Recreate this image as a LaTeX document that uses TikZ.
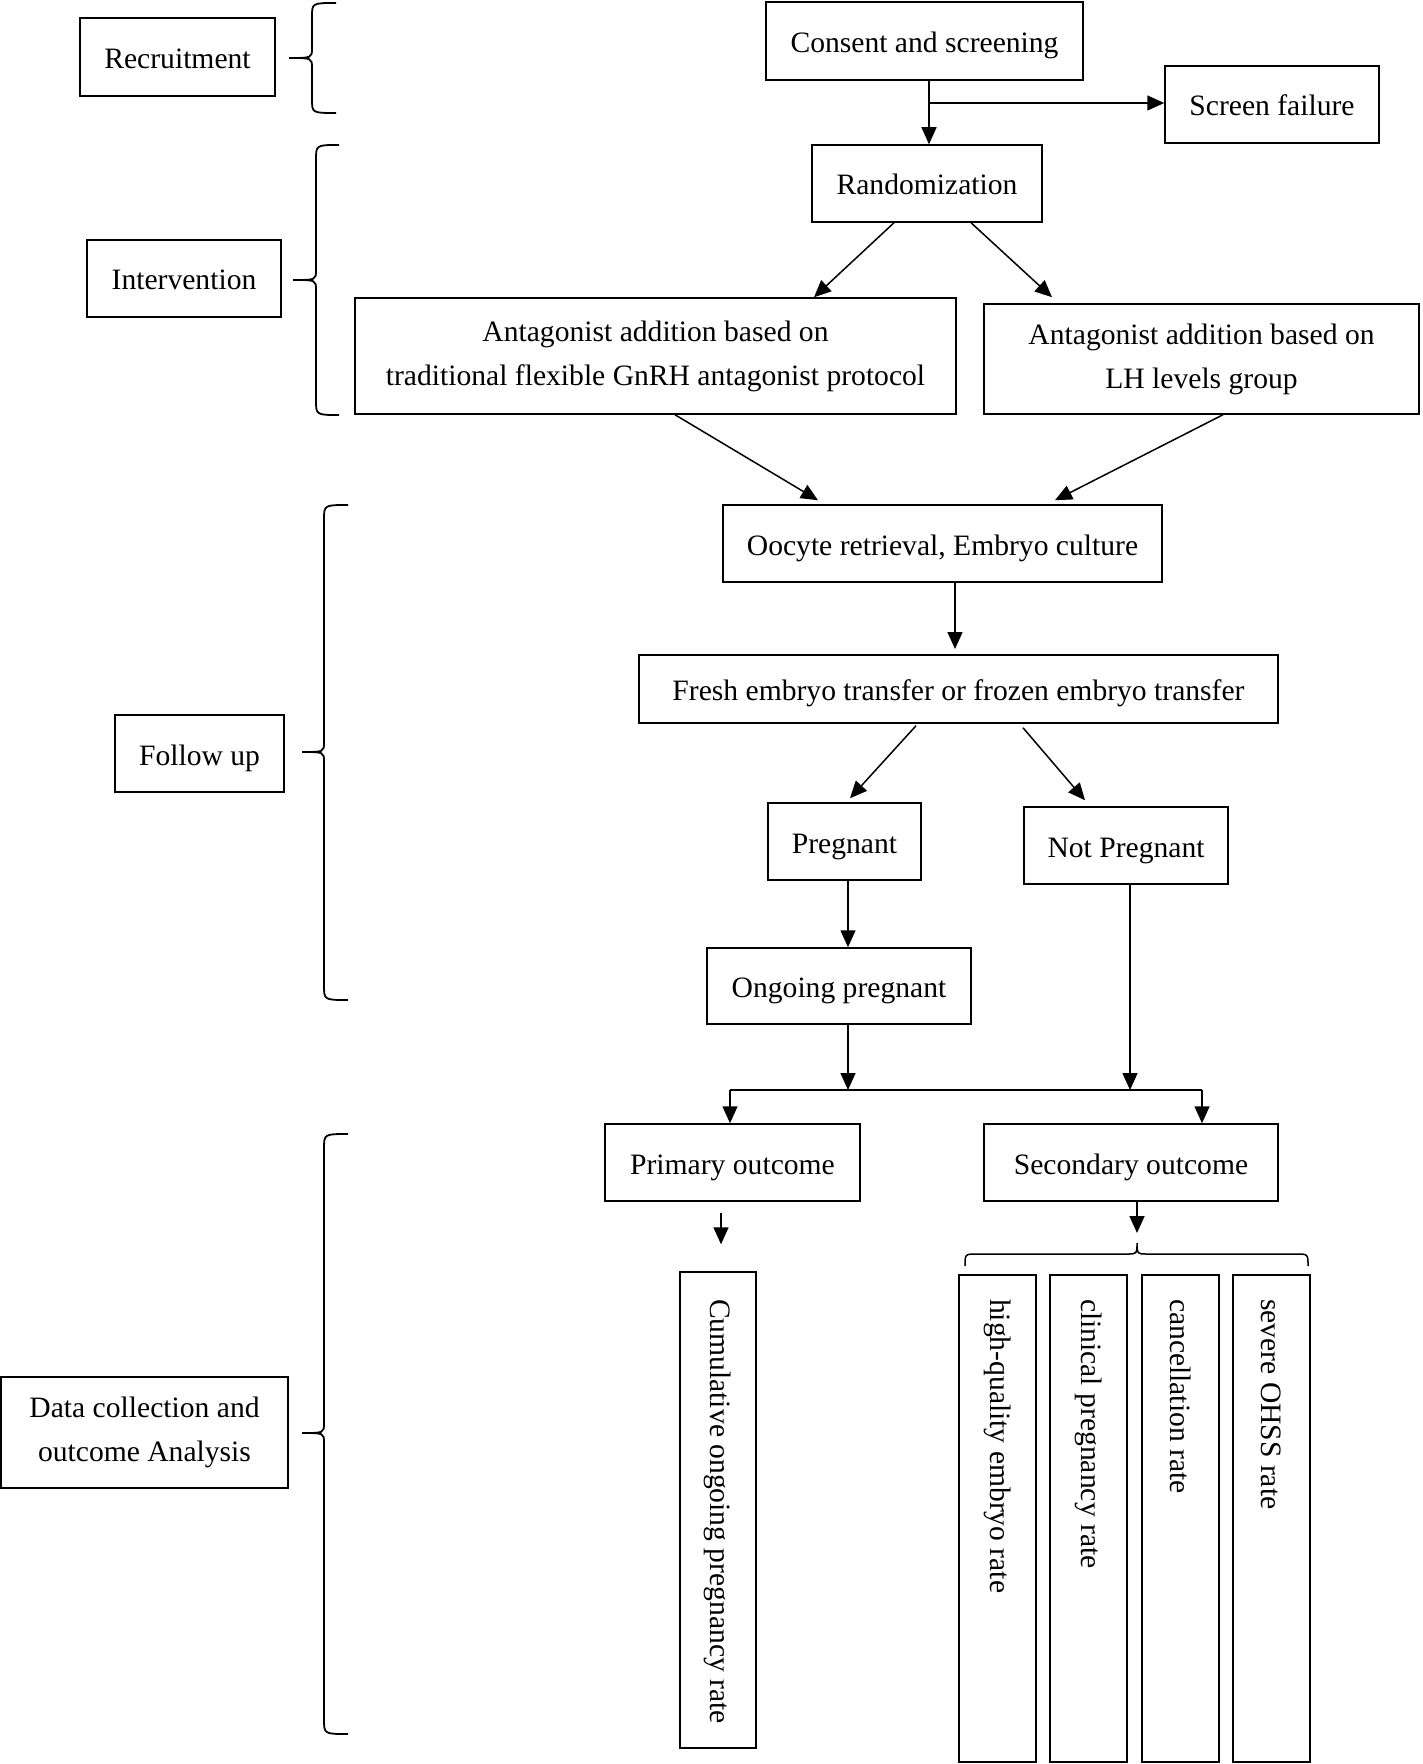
\documentclass[tikz,border=0pt]{standalone}
\usepackage{fontspec}
\setmainfont{Liberation Serif}
\usetikzlibrary{arrows.meta}
\tikzstyle{flow}=[x=0.5pt, y=-0.5pt, line width=0.75pt, font=\fontsize{14.8}{22}\selectfont]
\tikzstyle{box}=[rectangle, draw, inner sep=2pt, text height=14.5pt, text depth=3pt]
\tikzstyle{boxtwo}=[rectangle, draw, inner sep=2pt, align=center]
\tikzstyle{rate}=[rectangle, draw, rotate=-90, inner sep=0pt]
\tikzstyle{edge}=[-{Triangle[length=8.5pt, width=7.5pt]}]
\tikzstyle{pipe}=[-]
\tikzstyle{curly}=[-, line width=0.9pt]
\begin{document}
\begin{tikzpicture}[flow]
	\useasboundingbox (0,0) rectangle (1422,1764);

	%The stage labels
	\draw (177.5,57) node[box, minimum width=97.5pt, minimum height=39pt] (recruit) {Recruitment};
	\draw (184,278.5) node[box, minimum width=97pt, minimum height=38.5pt] (interv) {Intervention};
	\draw (199.5,753.5) node[box, minimum width=84.5pt, minimum height=38.5pt] (follow) {Follow up};
	\draw (144.5,1432.5) node[boxtwo, minimum width=143.5pt, minimum height=55.5pt] (data) {Data collection and\\outcome Analysis};

	%The braces
	\draw[curly] (336,3) .. controls (312,3) .. (312,17) -- (312,48) .. controls (312,58) .. (289,58) .. controls (312,58) .. (312,68) -- (312,99) .. controls (312,113) .. (336,113);
	\draw[curly] (339,145) .. controls (316,145) .. (316,160) -- (316,270) .. controls (316,280) .. (293,280) .. controls (316,280) .. (316,290) -- (316,400) .. controls (316,415) .. (339,415);
	\draw[curly] (348,505) .. controls (324,505) .. (324,520) -- (324,742) .. controls (324,752) .. (302,752) .. controls (324,752) .. (324,762) -- (324,985) .. controls (324,1000) .. (348,1000);
	\draw[curly] (348,1134) .. controls (324,1134) .. (324,1149) -- (324,1423) .. controls (324,1433) .. (302,1433) .. controls (324,1433) .. (324,1443) -- (324,1719) .. controls (324,1734) .. (348,1734);

	%The main flow
	\draw (924.5,41) node[box, minimum width=158.5pt, minimum height=39pt] (consent) {Consent and screening};
	\draw (1272,104.5) node[box, minimum width=107pt, minimum height=38.5pt] (failure) {Screen failure};
	\draw (927,183.5) node[box, minimum width=115pt, minimum height=38.5pt] (random) {Randomization};
	\draw (655.5,356) node[boxtwo, minimum width=300.5pt, minimum height=58pt] (antagL) {Antagonist addition based on\\traditional flexible GnRH antagonist protocol};
	\draw (1201.5,359) node[boxtwo, minimum width=217.5pt, minimum height=55pt] (antagR) {Antagonist addition based on\\LH levels group};
	\draw (942.5,543.5) node[box, minimum width=219.5pt, minimum height=38.5pt] (oocyte) {Oocyte retrieval, Embryo culture};
	\draw (958.5,689) node[box, minimum width=319.5pt, minimum height=34pt] (fresh) {Fresh embryo transfer or frozen embryo transfer};
	\draw (844.5,841.5) node[box, minimum width=76.5pt, minimum height=38.5pt] (preg) {Pregnant};
	\draw (1126,845.5) node[box, minimum width=102pt, minimum height=38.5pt] (notpreg) {Not Pregnant};
	\draw (839,986) node[box, minimum width=132pt, minimum height=38pt] (ongoing) {Ongoing pregnant};
	\draw (732.5,1162.5) node[box, minimum width=127.5pt, minimum height=38.5pt] (primary) {Primary outcome};
	\draw (1131,1162.5) node[box, minimum width=147pt, minimum height=38.5pt] (secondary) {Secondary outcome};

	%The outcome rates
	\draw (718,1510) node[rate, minimum width=238pt, minimum height=38pt] (cumul) {\makebox[211pt][l]{Cumulative ongoing pregnancy rate}};
	\draw (997.5,1518.5) node[rate, minimum width=243.5pt, minimum height=38.5pt] (quality) {\makebox[219.5pt][l]{high-quality embryo rate}};
	\draw (1088.5,1518.5) node[rate, minimum width=243.5pt, minimum height=38.5pt] (clinical) {\makebox[219.5pt][l]{clinical pregnancy rate}};
	\draw (1180.5,1518.5) node[rate, minimum width=243.5pt, minimum height=38.5pt] (cancel) {\makebox[219.5pt][l]{cancellation rate}};
	\draw (1271.5,1518.5) node[rate, minimum width=243.5pt, minimum height=38.5pt] (ohss) {\makebox[219.5pt][l]{severe OHSS rate}};

	%The junctions
	\coordinate (split) at (929,103);
	\coordinate (transfer) at (955,649);
	\coordinate (mergeM) at (848,1090);
	\coordinate (mergeN) at (1130,1090);
	\coordinate (mergeL) at (730,1090);
	\coordinate (mergeR) at (1202,1090);
	\coordinate (sec-tip) at (1137,1233);

	%The connectors
	\draw[edge] (consent.south -| split) -- (random.north -| split);
	\draw[edge] (split) -- (split -| failure.west);
	\draw[edge] ([shift={(-33,0)}]random.south) -- ([shift={(158.5,0)}]antagL.north);
	\draw[edge] ([shift={(44,0)}]random.south) -- ([shift={(-149.5,-6)}]antagR.north);
	\draw[edge] ([shift={(19.5,0)}]antagL.south) -- ([shift={(-124.5,-4)}]oocyte.north);
	\draw[edge] ([shift={(21.5,0)}]antagR.south) -- ([shift={(112.5,-4)}]oocyte.north);
	\draw[edge] (oocyte.south -| transfer) -- (transfer);
	\draw[edge] ([shift={(-42.5,2)}]fresh.south) -- ([shift={(5.5,-4)}]preg.north);
	\draw[edge] ([shift={(64.5,4)}]fresh.south) -- ([shift={(-41,-6)}]notpreg.north);
	\draw[edge] (preg.south -| mergeM) -- (ongoing.north -| mergeM);
	\draw[edge] (ongoing.south -| mergeM) -- (mergeM);
	\draw[edge] (notpreg.south -| mergeN) -- (mergeN);
	\draw[pipe] (mergeL) -- (mergeR);
	\draw[edge] (mergeL) -- (primary.north -| mergeL);
	\draw[edge] (mergeR) -- (secondary.north -| mergeR);
	\draw[edge] ([shift={(-11.5,11)}]primary.south) -- ([shift={(3,-27)}]cumul.west);
	\draw[edge] (secondary.south -| sec-tip) -- (sec-tip);

	%The bracket over the secondary rates
	\draw[pipe] (965,1266) .. controls (965,1254) .. (977,1254) -- (1127,1254) .. controls (1137,1254) .. (1137,1243) .. controls (1137,1254) .. (1147,1254) -- (1296,1254) .. controls (1308,1254) .. (1308,1266);
\end{tikzpicture}
\end{document}
